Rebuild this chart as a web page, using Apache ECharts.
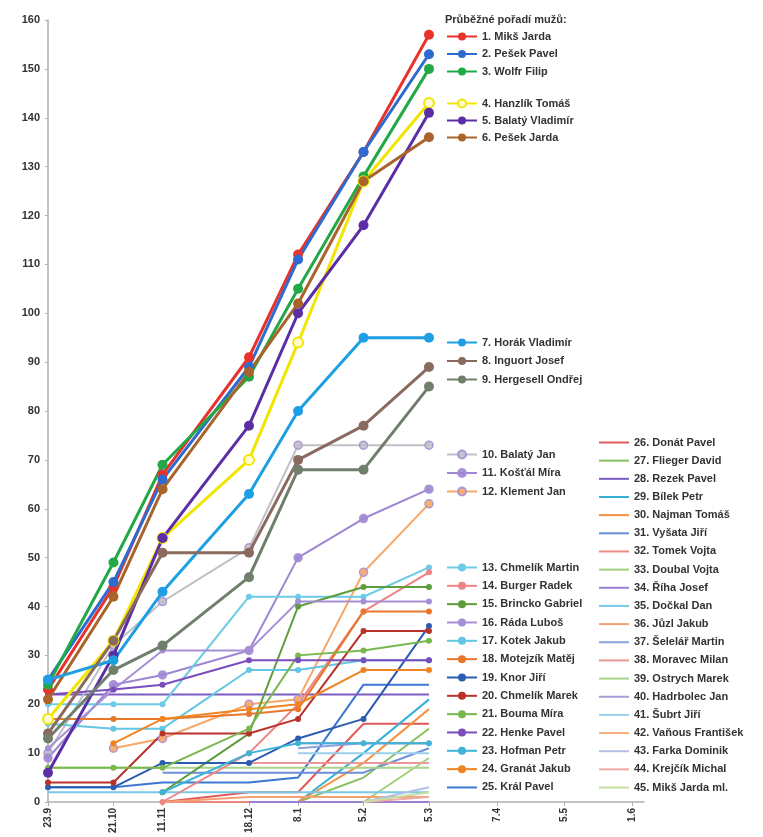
<!DOCTYPE html>
<html><head><meta charset="utf-8">
<script src="https://cdn.jsdelivr.net/npm/echarts@6/dist/echarts.min.js"></script>
<style>html,body{margin:0;padding:0;background:#fff}#c{width:763px;height:837px}</style>
</head><body><div id="c"></div>
<script>
// x positions (days since 23.9) and tick labels
var dayOffsets = [0, 28, 49, 86, 107, 135, 163, 192, 221, 250];
var tickLabels = ['23.9', '21.10', '11.11', '18.12', '8.1', '5.2', '5.3', '7.4', '5.5', '1.6'];

var names = [
 '1. Mikš Jarda','2. Pešek Pavel','3. Wolfr Filip','4. Hanzlík Tomáš','5. Balatý Vladimír','6. Pešek Jarda',
 '7. Horák Vladimír','8. Inguort Josef','9. Hergesell Ondřej',
 '10. Balatý Jan','11. Košťál Míra','12. Klement Jan',
 '13. Chmelík Martin','14. Burger Radek','15. Brincko Gabriel','16. Ráda Luboš','17. Kotek Jakub','18. Motejzík Matěj',
 '19. Knor Jiří','20. Chmelík Marek','21. Bouma Míra','22. Henke Pavel','23. Hofman Petr','24. Granát Jakub','25. Král Pavel',
 '26. Donát Pavel','27. Flieger David','28. Rezek Pavel','29. Bílek Petr','30. Najman Tomáš','31. Vyšata Jiří','32. Tomek Vojta',
 '33. Doubal Vojta','34. Říha Josef','35. Dočkal Dan','36. Jůzl Jakub','37. Šelelář Martin','38. Moravec Milan','39. Ostrych Marek',
 '40. Hadrbolec Jan','41. Šubrt Jiří','42. Vaňous František','43. Farka Dominik','44. Krejčík Michal','45. Mikš Jarda ml.'
];

var values = [
 [23, 44, 67, 91, 112, 133, 157],
 [25, 45, 66, 89, 111, 133, 153],
 [24, 49, 69, 87, 105, 128, 150],
 [17, 33, 54, 70, 94, 127, 143],
 [6, 30, 54, 77, 100, 118, 141],
 [21, 42, 64, 88, 102, 127, 136],
 [25, 29, 43, 63, 80, 95, 95],
 [14, 33, 51, 51, 70, 77, 89],
 [13, 27, 32, 46, 68, 68, 85],
 [10, 32, 41, 52, 73, 73, 73],
 [9, 24, 26, 31, 50, 58, 64],
 [null, 11, 13, 20, 21, 47, 61],
 [20, 20, 20, 42, 42, 42, 48],
 [null, null, 0, 10, 20, 39, 47],
 [null, null, 2, 14, 40, 44, 44],
 [11, 23, 31, 31, 41, 41, 41],
 [16, 15, 15, 27, 27, 29, 29],
 [17, 17, 17, 18, 19, 39, 39],
 [3, 3, 8, 8, 13, 17, 36],
 [4, 4, 14, 14, 17, 35, 35],
 [7, 7, 7, 15, 30, 31, 33],
 [22, 23, 24, 29, 29, 29, 29],
 [null, null, 2, 10, 12, 12, 12],
 [null, 12, 17, 19, 20, 27, 27],
 [3, 3, 4, 4, 5, 24, 24],
 [null, null, 0, 2, 2, 16, 16],
 [null, null, null, null, 0, 5, 15],
 [22, 22, 22, 22, 22, 22, 22],
 [null, null, null, null, 0, 10, 21],
 [null, null, null, 0, 0, 8, 19],
 [null, null, 6, 6, 6, 6, 11],
 [null, null, 0, 0, 0, 0, 0],
 [null, null, null, null, null, 0, 9],
 [null, null, null, 0, 0, 0, 0],
 [2, 2, 2, 2, 2, 2, 2],
 [null, null, 0, 1, 1, 1, 1],
 [null, null, null, null, 11, 12, 12],
 [null, null, null, 8, 8, 8, 8],
 [7, 7, 7, 7, 7, 7, 7],
 [null, null, null, null, 12, 12, 12],
 [null, null, null, null, 10, 10, 10],
 [null, null, null, null, null, null, 0],
 [null, null, null, null, null, 0, 3],
 [null, null, null, null, null, 0, 1],
 [null, null, null, null, null, 0, 2]
];

var colors = ['#e8322b','#2d6bd0','#23a847','#f2e600','#5b2ea6','#a8642a','#1e9fe4','#8a6a5e','#6f7f6c',
 '#c0c0c8','#9d86d2','#f7a868','#6ccbe6','#ee8484','#5d9c3a','#a68fd4','#62c6e4','#e8772a','#2b5cb0','#b8322a',
 '#78b84e','#7a4cbc','#3fb3d6','#f08423','#3b78d2','#e05a5a','#86c060','#7b5cc4','#39b0d8','#f59040','#6b8fd6',
 '#e88a82','#9fd07c','#9a80d0','#78c8e6','#f5a070','#8ba2dc','#e89a9a','#a6d48a','#ab9bd6','#9ad0ea','#f6b080',
 '#b3bfe6','#f0aaaa','#c5df9e'];

var MARKED = 24; // series with markers
var series = names.map(function(n, i){
  var pts = [];
  values[i].forEach(function(v, j){ if (v !== null) pts.push([dayOffsets[j], v]); });
  var big = i < 9, mid = i >= 9 && i < MARKED;
  var s = {
    name: n, type: 'line', data: pts, color: colors[i],
    symbol: big || mid ? 'circle' : 'none',
    symbolSize: big ? 10 : (i < 12 ? 8 : 6),
    lineStyle: { width: big ? 3 : 2, color: colors[i] },
    itemStyle: { color: colors[i] },
    z: big ? 10 : (mid ? 5 : 3),
    animation: false
  };
  if (i === 3) { s.itemStyle = { color: '#fffbd0', borderColor: '#f2e600', borderWidth: 2 }; }
  if (i >= 9 && i < 12) { s.itemStyle = { color: colors[i], borderColor: '#a98fd6', borderWidth: 1.5, opacity: 0.9 }; }
  return s;
});

var txt = { fontSize: 11, fontWeight: 'bold', color: '#333', fontFamily: 'Liberation Sans' };
function leg(from, to, left, top, gap) {
  var data = names.slice(from, to).map(function(n, k){
    var idx = from + k;
    if (idx >= MARKED) return { name: n, itemStyle: { color: 'rgba(0,0,0,0)', borderWidth: 0 } };
    return n;
  });
  return { orient: 'vertical', left: left, top: top, itemWidth: 30, itemHeight: 10, itemGap: gap,
    data: data, textStyle: txt, padding: 0, selectedMode: false };
}

var chart = echarts.init(document.getElementById('c'), null, { renderer: 'canvas' });
chart.setOption({
  animation: false,
  backgroundColor: '#fff',
  title: { text: 'Průběžné pořadí mužů:', left: 440, top: 9,
    textStyle: { fontSize: 11, fontWeight: 'bold', color: '#333', fontFamily: 'Liberation Sans' } },
  grid: { left: 48, right: 119, top: 20, bottom: 35 },
  legend: [
    leg(0, 3, 446, 31, 6.5),
    leg(3, 6, 446, 98, 6),
    leg(6, 9, 446, 337, 7.5),
    leg(9, 12, 446, 449, 7.5),
    leg(12, 25, 446, 562, 7.33),
    leg(25, 45, 598, 437, 7.16)
  ],
  xAxis: {
    type: 'value', min: 0, max: 255,
    axisLine: { lineStyle: { color: '#b0b0b0', width: 1.5 } },
    splitLine: { show: false },
    axisTick: { show: true, customValues: dayOffsets, length: 4, lineStyle: { color: '#b0b0b0' } },
    axisLabel: { customValues: dayOffsets, rotate: 90, fontSize: 10, fontWeight: 'bold', color: '#333',
      fontFamily: 'Liberation Sans', margin: 6,
      formatter: function(v){ var k = dayOffsets.indexOf(v); return k >= 0 ? tickLabels[k] : ''; } }
  },
  yAxis: {
    type: 'value', min: 0, max: 160, interval: 10,
    axisLine: { show: true, lineStyle: { color: '#b0b0b0', width: 1.5 } },
    axisTick: { show: true, length: 3, lineStyle: { color: '#b0b0b0' } },
    splitLine: { show: false },
    axisLabel: { fontSize: 11, fontWeight: 'bold', color: '#333', fontFamily: 'Liberation Sans', margin: 8 }
  },
  series: series
});
</script>
</body></html>
